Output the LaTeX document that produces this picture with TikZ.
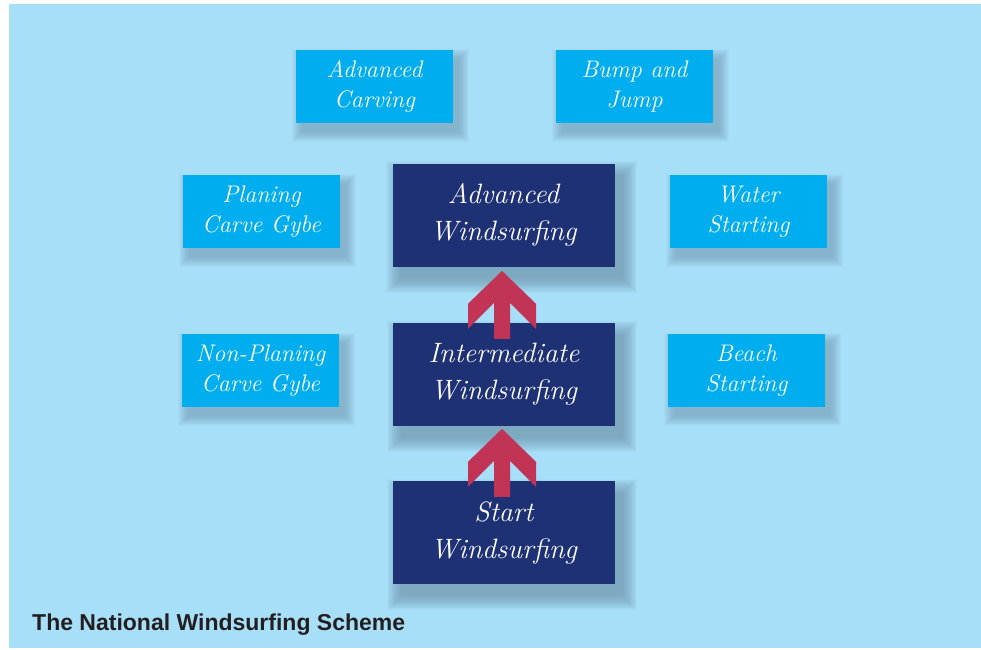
\documentclass[tikz,border=0pt]{standalone}
\usepackage{fontspec}
\newfontfamily\titlefont{Liberation Sans Bold}
\usetikzlibrary{calc}
\definecolor{bgblue}{HTML}{A8DFF8}
\definecolor{cyanbox}{HTML}{00AEEF}
\definecolor{darkbox}{HTML}{1F3175}
\definecolor{arrowred}{HTML}{C23456}
\definecolor{titlegray}{HTML}{231F20}
\definecolor{shadowc}{HTML}{678AA1}
\pgfdeclarelayer{background}
\pgfsetlayers{background,main}
\tikzset{
  skill/.style={fill=cyanbox, text=white, minimum width=157pt, minimum height=73pt,
    inner sep=0pt, align=center, font=\fontsize{24}{30}\selectfont\itshape},
  level/.style={fill=darkbox, text=white, minimum width=222pt, minimum height=103pt,
    inner sep=0pt, align=center, font=\fontsize{28}{37}\selectfont\itshape},
  uparrow/.style={fill=arrowred},
  shadowlayer/.style={fill=shadowc, opacity=0.055}
}
\newcommand\boxshadow[4]{%
  \foreach \k in {0,...,#2}{%
    \fill[shadowlayer] ($(#1.south west)+(#3-\k,#4+\k)$) rectangle ($(#1.north east)+(#3+\k,#4-\k)$);
  }}
\newcommand\chevronup[1]{%
  \fill[uparrow,shift={(#1)}] (-2,-52) -- (-36,-19) -- (-36,6) -- (-10,-20) -- (-10,16)
    -- (6,16) -- (6,-20) -- (32,6) -- (32,-19) -- cycle;}
\begin{document}
\begin{tikzpicture}[x=1pt,y=-1pt]
\useasboundingbox (0,0) rectangle (981,649);
% skill boxes
\node[skill] (advcarv) at (374.5,86.5) {Advanced\\Carving};
\node[skill] (bump) at (634.5,86.5) {Bump and\\Jump};
\node[skill] (planing) at (261.5,211.5) {Planing\\Carve Gybe};
\node[skill] (water) at (748.5,211.5) {Water\\Starting};
\node[skill] (nonplan) at (260.5,370.5) {Non-Planing\\Carve Gybe};
\node[skill] (beach) at (746.5,370.5) {Beach\\Starting};
% level boxes
\node[level] (advwind) at (503.5,215) {Advanced\\Windsurfing};
\node[level] (inter) at (504,374.5) {Intermediate\\Windsurfing};
\node[level] (start) at (504,532.5) {Start\\Windsurfing};
% arrows
\chevronup{start.north}
\chevronup{inter.north}
% title
\node[anchor=base west, inner sep=0pt, text=titlegray,
  font=\titlefont\fontsize{23}{28}\selectfont] (title) at (32,630) {The National Windsurfing Scheme};
\begin{pgfonlayer}{background}
  \fill[bgblue] (9,4) rectangle (981,648);
  \boxshadow{advcarv}{10}{6}{9}
  \boxshadow{bump}{10}{6}{9}
  \boxshadow{planing}{10}{6}{9}
  \boxshadow{water}{10}{6}{9}
  \boxshadow{nonplan}{10}{6}{9}
  \boxshadow{beach}{10}{6}{9}
  \boxshadow{advwind}{14}{8}{12}
  \boxshadow{inter}{14}{8}{12}
  \boxshadow{start}{14}{8}{12}
\end{pgfonlayer}
\end{tikzpicture}
\end{document}
